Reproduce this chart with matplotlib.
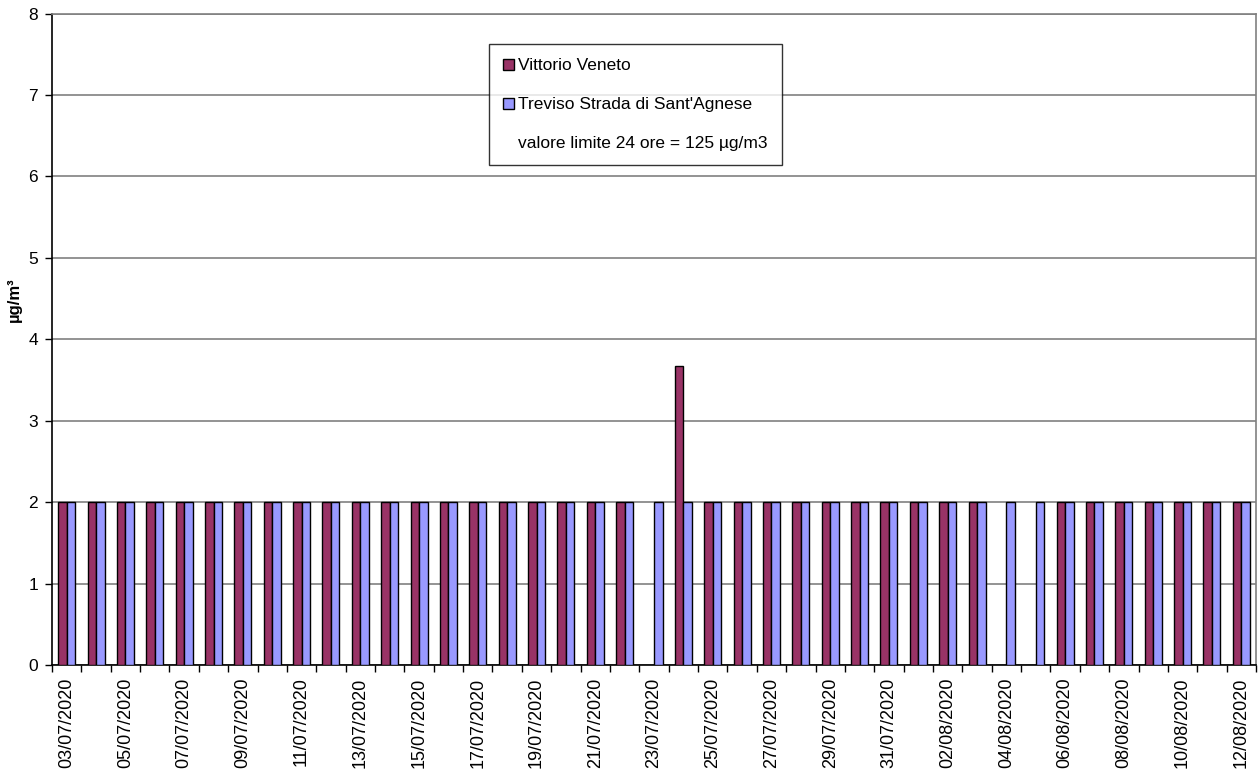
import numpy as np
import matplotlib
matplotlib.use("Agg")
import matplotlib.pyplot as plt
from matplotlib.patches import Patch
import datetime as dt

plt.rcParams['font.family'] = ['Liberation Sans', 'DejaVu Sans']

start = dt.date(2020, 7, 3)
dates = [(start + dt.timedelta(days=i)).strftime('%d/%m/%Y') for i in range(41)]

vittorio = [2.0] * 41
vittorio[20] = np.nan   # 23/07
vittorio[21] = 3.67     # 24/07
vittorio[32] = np.nan   # 04/08
vittorio[33] = np.nan   # 05/08
treviso = [2.0] * 41

series_names = ["Vittorio Veneto", "Treviso Strada di Sant'Agnese",
                "valore limite 24 ore = 125 µg/m3"]
colors = ["#993366", "#9999FF"]

fig = plt.figure(figsize=(12.58, 7.74), dpi=100)
ax = fig.add_axes([52/1258, 1 - 665/774, (1256-52)/1258, (665-13.5)/774])

x = np.arange(len(dates)) + 0.5
w = 0.29
ax.bar(x - w/2, vittorio, w, color=colors[0], edgecolor='black', linewidth=1, zorder=3)
ax.bar(x + w/2, treviso, w, color=colors[1], edgecolor='black', linewidth=1, zorder=3)

ax.set_xlim(0, len(dates))
ax.set_ylim(0, 8)
ax.set_yticks(range(0, 9))
ax.yaxis.grid(True, color='#808080', linewidth=1.2, zorder=0)
ax.set_axisbelow(True)

ax.set_xticks(np.arange(0, len(dates) + 1))
ax.set_xticklabels([])
ax.set_xticks(x[::2], minor=True)
ax.set_xticklabels(dates[::2], minor=True, rotation=90, fontsize=13)
ax.tick_params(axis='x', which='major', direction='out', length=5, width=1)
ax.tick_params(axis='x', which='minor', length=0, pad=9)
ax.tick_params(axis='y', direction='out', length=5, width=1, labelsize=12.5, pad=5)

for s in ['top', 'right']:
    ax.spines[s].set_color('#808080')
    ax.spines[s].set_linewidth(1.2)
for s in ['left', 'bottom']:
    ax.spines[s].set_color('black')
    ax.spines[s].set_linewidth(1.2)

ax.set_ylabel('µg/m³', fontsize=12, fontweight='bold')
ax.yaxis.set_label_coords(-0.025, 0.56)

handles = [Patch(facecolor=colors[0], edgecolor='black'),
           Patch(facecolor=colors[1], edgecolor='black'),
           Patch(facecolor='none', edgecolor='none')]
leg = fig.legend(handles, series_names, loc='upper left',
                 bbox_to_anchor=(489/1258, 1 - 44/774), fontsize=12.5,
                 frameon=True, fancybox=False, shadow=False,
                 handlelength=0.6, handleheight=0.6, handletextpad=0.25,
                 labelspacing=1.38, borderpad=0.82, borderaxespad=0)
leg.get_frame().set_edgecolor('black')
leg.get_frame().set_linewidth(1)

fig.savefig('out.png', dpi=100)
